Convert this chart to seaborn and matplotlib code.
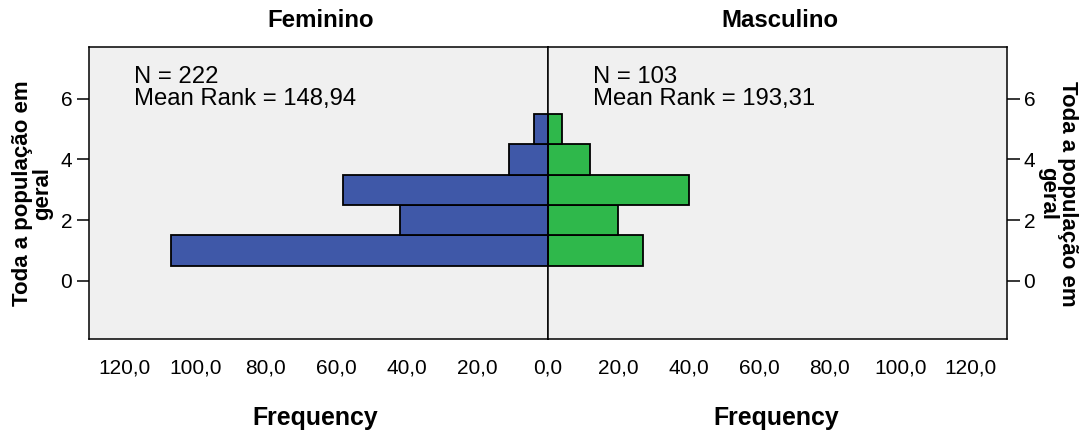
import numpy as np
import pandas as pd
import matplotlib
matplotlib.use("Agg")
import matplotlib.pyplot as plt
import seaborn as sns

# Response levels and frequencies per group
levels = [1, 2, 3, 4, 5]
female_counts = [107, 42, 58, 11, 4]
male_counts = [27, 20, 40, 12, 4]
groups = ["Feminino", "Masculino"]
group_n = [222, 103]
mean_rank = ["148,94", "193,31"]
y_label = "Toda a população em\ngeral"
x_label = "Frequency"
x_ticks = [0, 20, 40, 60, 80, 100, 120]
y_ticks = [0, 2, 4, 6]

sns.set_style("white")
plt.rcParams["font.family"] = ["Liberation Sans", "DejaVu Sans"]
plt.rcParams["text.color"] = "black"
plt.rcParams["xtick.color"] = "black"
plt.rcParams["ytick.color"] = "black"
plt.rcParams["axes.labelcolor"] = "black"

fig = plt.figure(figsize=(10.85, 4.4), dpi=100)
ax_l = fig.add_axes([0.082, 0.2295, 0.423, 0.6645])
ax_r = fig.add_axes([0.505, 0.2295, 0.423, 0.6645])

bg = "#f0f0f0"
colors = ["#3f58a8", "#2fb84b"]

df_f = pd.DataFrame({"level": levels, "count": female_counts})
df_m = pd.DataFrame({"level": levels, "count": male_counts})

for ax, df, col in [(ax_l, df_f, colors[0]), (ax_r, df_m, colors[1])]:
    ax.set_facecolor(bg)
    sns.histplot(data=df, y="level", weights="count", discrete=True,
                 color=col, alpha=1, edgecolor="black", linewidth=1.3, ax=ax)
    ax.set_xlim(0, 130.2)
    ax.set_ylim(-1.92, 7.72)
    ax.set_yticks(y_ticks)
    ax.set_ylabel("")
    ax.set_xlabel("")
    for s in ax.spines.values():
        s.set_color("black")
        s.set_linewidth(1.1)
    ax.tick_params(axis="both", length=9, width=1.1, color="black",
                   labelcolor="black", labelsize=15, pad=3)

ax_l.invert_xaxis()
ax_l.set_xticks(x_ticks)
ax_l.set_xticklabels([f"{v:.1f}".replace(".", ",") for v in x_ticks])
ax_r.set_xticks(x_ticks[1:])
ax_r.set_xticklabels([f"{v:.1f}".replace(".", ",") for v in x_ticks[1:]])
ax_l.tick_params(axis="x", pad=5)
ax_r.tick_params(axis="x", pad=5)

ax_l.yaxis.tick_left()
ax_r.yaxis.tick_right()
ax_l.set_yticklabels([str(v) for v in y_ticks])
ax_r.set_yticklabels([str(v) for v in y_ticks])

# Group summaries inside each panel
for ax, n, mr in [(ax_l, group_n[0], mean_rank[0]), (ax_r, group_n[1], mean_rank[1])]:
    ax.text(0.098, 0.935, f"N = {n}\nMean Rank = {mr}", transform=ax.transAxes,
            ha="left", va="top", fontsize=17.2, linespacing=1.0, color="black")

# Panel titles and axis labels
fig.text(0.2954, 0.953, groups[0], ha="center", va="center", fontsize=17.3, fontweight="bold")
fig.text(0.7184, 0.953, groups[1], ha="center", va="center", fontsize=17.3, fontweight="bold")
fig.text(0.291, 0.05, x_label, ha="center", va="center", fontsize=17.9, fontweight="bold")
fig.text(0.715, 0.05, x_label, ha="center", va="center", fontsize=17.9, fontweight="bold")
fig.text(0.030, 0.56, y_label, ha="center", va="center", rotation=90,
         fontsize=16, fontweight="bold", linespacing=0.95)
fig.text(0.975, 0.56, y_label, ha="center", va="center", rotation=-90,
         fontsize=16, fontweight="bold", linespacing=0.95)

fig.savefig("out.png", dpi=100, facecolor="white")
